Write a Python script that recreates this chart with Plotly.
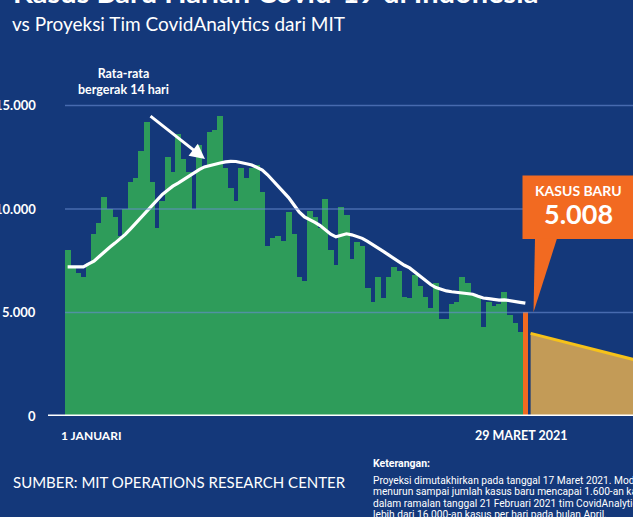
import pandas as pd
import plotly.graph_objects as go

# ---------------- data ----------------
start_date = "2021-01-01"
daily_cases = [  # 1 Jan - 28 Mar 2021
    8000, 7200, 6900, 6700, 7400, 8800, 9300, 10600, 10000, 9600,
    8700, 10000, 11300, 11500, 12800, 14200, 11300, 9100, 10400, 12500,
    11800, 13600, 12400, 11800, 10000, 13100, 12000, 13700, 13800, 14500,
    12000, 11000, 10400, 12000, 11500, 12000, 12100, 10800, 8200, 8600,
    8700, 8450, 9850, 8800, 6700, 6500, 9900, 9600, 9100, 10500,
    8000, 7300, 10100, 9700, 7600, 8400, 8200, 6200, 5500, 6700,
    5700, 6700, 7200, 7000, 5750, 5700, 6800, 6300, 5750, 5200,
    6400, 4700, 4700, 5400, 5500, 6700, 6400, 5900, 5750, 4300,
    5500, 5300, 5400, 6000, 4900, 4500, 4050,
]
last_date = "2021-03-29"
last_cases = 5008
moving_avg_14 = [  # 1 Jan - 29 Mar 2021
    7200, 7200, 7200, 7200, 7350, 7480, 7700, 7950, 8150, 8350,
    8550, 8780, 9050, 9330, 9620, 9900, 10180, 10450, 10700, 10900,
    11100, 11250, 11420, 11580, 11750, 11900, 12030, 12100, 12170, 12220,
    12270, 12300, 12290, 12250, 12180, 12120, 12020, 11880, 11650, 11380,
    11120, 10850, 10550, 10200, 9850, 9620, 9500, 9350, 9200, 9000,
    8780, 8650, 8720, 8800, 8750, 8680, 8580, 8430, 8280, 8120,
    7950, 7780, 7600, 7420, 7280, 7150, 6950, 6780, 6580, 6350,
    6200, 6120, 6040, 6000, 5970, 5950, 5930, 5880, 5780, 5700,
    5670, 5630, 5600, 5610, 5580, 5530, 5490, 5450,
]
proj_dates = ["2021-03-30", "2021-04-04", "2021-04-09", "2021-04-14", "2021-04-19", "2021-04-24"]
proj_values = [3990, 3670, 3345, 3020, 2700, 2380]
y_tick_vals = [0, 5000, 10000, 15000]
y_tick_text = ["0", "5.000", "10.000", "15.000"]
note_lines = [
    "Proyeksi dimutakhirkan pada tanggal 17 Maret 2021. Model memperkirakan kasus",
    "menurun sampai jumlah kasus baru mencapai 1.600-an kasus per hari. Sebelumnya,",
    "dalam ramalan tanggal 21 Februari 2021 tim CovidAnalytics memperkirakan",
    "lebih dari 16.000-an kasus per hari pada bulan April.",
]

# ---------------- style ----------------
BG = "#14387a"
GREEN = "#2e9c5a"
ORANGE = "#f26a21"
TAN = "#c39b57"
YELLOW = "#f6c21a"
WHITE = "#ffffff"
FONT = "Lato"

W, H = 633, 517
PL, PR, PT, PB = 65, 633, 64, 416
YMAX = 17000


def xp(px):
    return (px - PL) / (PR - PL)


def yp(py):
    return (PB - py) / (PB - PT)


def yd(py):
    return (PB - py) / (PB - PT) * YMAX


dates = pd.date_range(start_date, periods=len(daily_cases), freq="D")
ma_dates = pd.date_range(start_date, periods=len(moving_avg_14), freq="D")

x0 = pd.Timestamp(start_date) - pd.Timedelta(hours=12)
x1 = x0 + pd.Timedelta(days=107.96)
DAY_MS = 86400000

fig = go.Figure()
fig.add_trace(go.Bar(x=dates, y=daily_cases, marker=dict(color=GREEN, line=dict(width=0)),
                     width=DAY_MS * 1.15, hoverinfo="skip"))
fig.add_trace(go.Bar(x=[last_date], y=[last_cases], marker=dict(color=ORANGE, line=dict(width=0)),
                     width=DAY_MS * 1.05, hoverinfo="skip"))
fig.add_trace(go.Scatter(x=proj_dates, y=proj_values, mode="lines", fill="tozeroy", fillcolor=TAN,
                         line=dict(color=YELLOW, width=3), hoverinfo="skip"))
fig.add_trace(go.Scatter(x=ma_dates, y=moving_avg_14, mode="lines",
                         line=dict(color=WHITE, width=3.2), hoverinfo="skip"))

shapes = []
for v in y_tick_vals[1:]:
    shapes.append(dict(type="line", xref="paper", yref="y", x0=0, x1=1, y0=v, y1=v,
                       line=dict(color="rgba(105,140,210,0.6)", width=1.5), layer="above"))
shapes.append(dict(type="line", xref="paper", yref="y", x0=xp(48), x1=1.01, y0=0, y1=0,
                   line=dict(color=WHITE, width=3), layer="above"))
# callout box
shapes.append(dict(type="rect", xref="paper", yref="paper", x0=xp(522.5), x1=xp(634),
                   y0=yp(239), y1=yp(175.5), fillcolor=ORANGE, line=dict(width=0), layer="above"))
shapes.append(dict(type="path", xref="paper", yref="y",
                   path=f"M {xp(535)},{yd(238.5)} L {xp(557)},{yd(238.5)} L {xp(533.5)},{last_cases} Z",
                   fillcolor=ORANGE, line=dict(width=0), layer="above"))

ann = []
ann.append(dict(text="<b>Kasus Baru Harian Covid-19 di Indonesia</b>", xref="paper", yref="paper",
                x=xp(11), y=yp(-9), xanchor="left", yanchor="middle", showarrow=False,
                font=dict(family=FONT, size=29, color=WHITE)))
ann.append(dict(text="vs Proyeksi Tim CovidAnalytics dari MIT", xref="paper", yref="paper",
                x=xp(10), y=yp(23), xanchor="left", yanchor="middle", showarrow=False,
                font=dict(family=FONT, size=19, color=WHITE)))
ann.append(dict(text="<b>Rata-rata<br>bergerak 14 hari</b>", xref="paper", yref="paper",
                x=xp(123), y=yp(81), xanchor="center", yanchor="middle", showarrow=False, align="center",
                font=dict(family=FONT, size=12.5, color=WHITE)))
ann.append(dict(text="", xref="paper", yref="paper", x=xp(205), y=yp(159), ax=-56, ay=-44,
                showarrow=True, arrowhead=2, arrowsize=1, arrowwidth=3, arrowcolor=WHITE, standoff=0))
for v, t in zip(y_tick_vals, y_tick_text):
    ann.append(dict(text=f"<b>{t}</b>", xref="paper", yref="y", x=xp(37.5), y=v, xanchor="right",
                    yanchor="middle", showarrow=False, font=dict(family=FONT, size=13, color=WHITE)))
ann.append(dict(text="<b>1 JANUARI</b>", xref="paper", yref="paper", x=xp(59), y=yp(435),
                xanchor="left", yanchor="middle", showarrow=False, font=dict(family=FONT, size=12, color=WHITE)))
ann.append(dict(text="<b>29 MARET 2021</b>", xref="paper", yref="paper", x=xp(521), y=yp(435),
                xanchor="center", yanchor="middle", showarrow=False, font=dict(family=FONT, size=12.5, color=WHITE)))
ann.append(dict(text="<b>KASUS BARU</b>", xref="paper", yref="paper", x=xp(578), y=yp(190),
                xanchor="center", yanchor="middle", showarrow=False, font=dict(family=FONT, size=14, color=WHITE)))
ann.append(dict(text="<b>5.008</b>", xref="paper", yref="paper", x=xp(578), y=yp(213),
                xanchor="center", yanchor="middle", showarrow=False, font=dict(family=FONT, size=27, color=WHITE)))
ann.append(dict(text="SUMBER: MIT OPERATIONS RESEARCH CENTER", xref="paper", yref="paper", x=xp(11), y=yp(482),
                xanchor="left", yanchor="middle", showarrow=False, font=dict(family=FONT, size=15, color=WHITE)))
ann.append(dict(text="<b>Keterangan:</b>", xref="paper", yref="paper", x=xp(371), y=yp(464),
                xanchor="left", yanchor="middle", showarrow=False, font=dict(family="Roboto", size=10.5, color=WHITE)))
for i, line in enumerate(note_lines):
    ann.append(dict(text=line, xref="paper", yref="paper", x=xp(371), y=yp(480 + 11.6 * i), xanchor="left",
                    yanchor="middle", align="left", showarrow=False,
                    font=dict(family="Roboto", size=10.2, color=WHITE)))

fig.update_layout(
    width=W, height=H,
    margin=dict(l=PL, r=W - PR, t=PT, b=H - PB, pad=0),
    paper_bgcolor=BG, plot_bgcolor=BG,
    showlegend=False, barmode="overlay", bargap=0,
    xaxis=dict(type="date", range=[x0, x1], visible=False, showgrid=False, zeroline=False),
    yaxis=dict(range=[0, YMAX], visible=False, showgrid=False, zeroline=False),
    shapes=shapes, annotations=ann,
)

fig.write_html("out.html", config={"displayModeBar": False},
               post_script="document.body.style.margin='0';document.body.style.overflow='hidden';")
